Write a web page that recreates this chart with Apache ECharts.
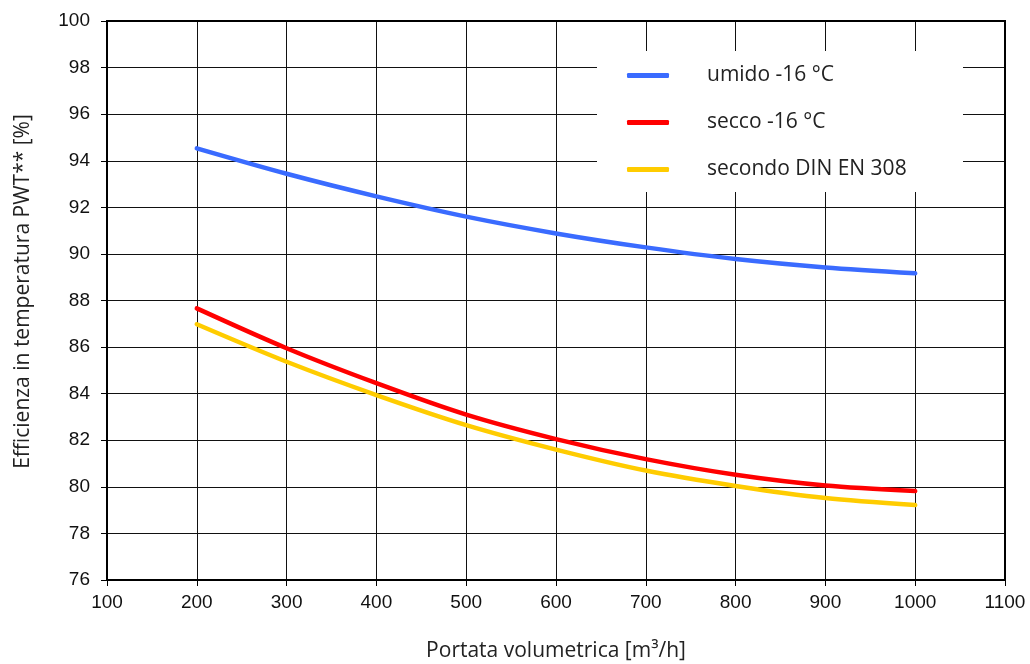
<!DOCTYPE html>
<html>
<head>
<meta charset="utf-8">
<script src="https://cdn.jsdelivr.net/npm/echarts@6/dist/echarts.min.js"></script>
<style>html,body{margin:0;padding:0;background:#fff}#c{width:1030px;height:664px}</style>
</head>
<body>
<div id="c"></div>
<script>
const xValues = [200, 300, 400, 500, 600, 700, 800, 900, 1000];
const umido = [94.53, 93.44, 92.47, 91.6, 90.88, 90.28, 89.78, 89.42, 89.17];
const secco = [87.66, 85.95, 84.45, 83.1, 82.05, 81.19, 80.52, 80.06, 79.82];
const din = [86.98, 85.37, 83.94, 82.65, 81.6, 80.7, 80.04, 79.52, 79.22];
const seriesNames = ['umido -16 °C', 'secco -16 °C', 'secondo DIN EN 308'];
const seriesColors = ['#3a6bff', '#ff0000', '#ffcc00'];
const seriesData = [umido, secco, din];

const chart = echarts.init(document.getElementById('c'), null, {renderer: 'canvas'});
const tickFont = {fontFamily: 'Liberation Sans', fontSize: 19, color: '#111'};
const titleFont = {fontFamily: 'Open Sans', fontSize: 21, color: '#222'};
chart.setOption({
  animation: false,
  backgroundColor: '#fff',
  grid: {left: 107, right: 25, top: 21, bottom: 84, containLabel: false, outerBoundsMode: 'none',
    show: true, borderColor: '#000', borderWidth: 2, z: 2},
  graphic: [{
    type: 'rect', z: 50, silent: true,
    shape: {x: 597, y: 51, width: 366, height: 141},
    style: {fill: '#fff'}
  }],
  legend: {
    orient: 'vertical', left: 622, top: 59, z: 60,
    itemWidth: 42, itemHeight: 5, itemGap: 24, icon: 'roundRect',
    textStyle: Object.assign({lineHeight: 23, padding: [0, 0, 0, 33]}, titleFont),
    data: seriesNames
  },
  xAxis: {
    type: 'value', min: 100, max: 1100, interval: 100,
    name: 'Portata volumetrica [m³/h]', nameLocation: 'middle', nameGap: 61,
    nameTextStyle: titleFont,
    axisLine: {show: true, onZero: false, lineStyle: {color: '#000', width: 2}},
    axisTick: {show: true, length: 6, lineStyle: {color: '#000', width: 1}},
    axisLabel: Object.assign({margin: 13, formatter: v => String(v)}, tickFont),
    splitLine: {show: true, lineStyle: {color: '#111', width: 1}}
  },
  yAxis: {
    type: 'value', min: 76, max: 100, interval: 2,
    name: 'Efficienza in temperatura PWT** [%]', nameLocation: 'middle', nameGap: 73, nameRotate: 90,
    nameTextStyle: Object.assign({padding: [0, 0, 0, 18]}, titleFont),
    axisLine: {show: true, lineStyle: {color: '#000', width: 2}},
    axisTick: {show: true, length: 6, lineStyle: {color: '#000', width: 1}},
    axisLabel: Object.assign({margin: 17, formatter: v => String(v)}, tickFont),
    splitLine: {show: true, lineStyle: {color: '#111', width: 1}}
  },
  series: seriesNames.map((n, i) => ({
    name: n, type: 'line', smooth: 0.3, showSymbol: false, symbol: 'none',
    color: seriesColors[i], z: 10,
    lineStyle: {color: seriesColors[i], width: 4.5, cap: 'round'},
    data: xValues.map((x, j) => [x, seriesData[i][j]])
  }))
});
</script>
</body>
</html>
